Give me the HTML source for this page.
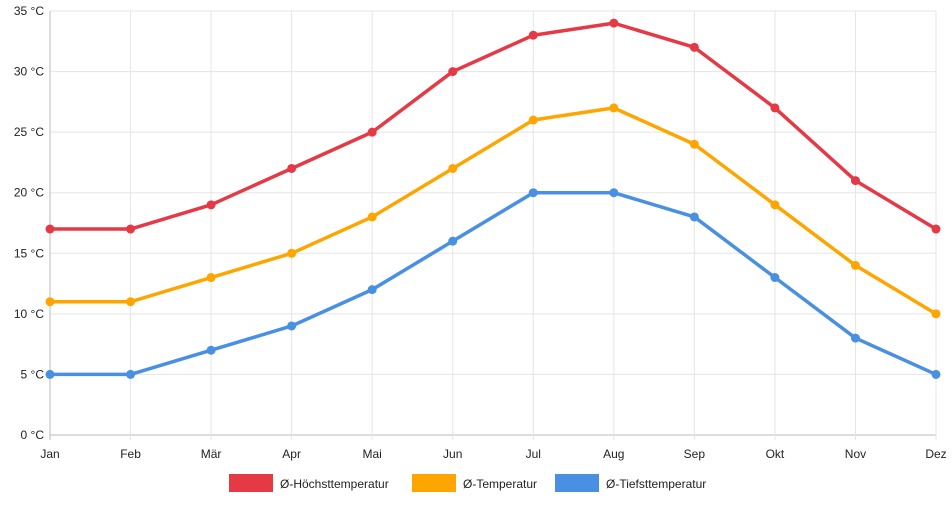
<!DOCTYPE html>
<html><head><meta charset="utf-8"><style>
body{margin:0;background:#fff;font-family:"Liberation Sans",sans-serif}
svg text{font-family:"Liberation Sans",sans-serif;font-size:12px;fill:#222}
</style></head><body>
<svg id="c" width="952" height="500"></svg>
<script>
const months=["Jan","Feb","Mär","Apr","Mai","Jun","Jul","Aug","Sep","Okt","Nov","Dez"];
const highs=[17,17,19,22,25,30,33,34,32,27,21,17];
const means=[11,11,13,15,18,22,26,27,24,19,14,10];
const lows=[5,5,7,9,12,16,20,20,18,13,8,5];
const yTicks=[0,5,10,15,20,25,30,35];
const seriesNames=["Ø-Höchsttemperatur","Ø-Temperatur","Ø-Tiefsttemperatur"];
const NS="http://www.w3.org/2000/svg";
const svg=document.getElementById('c');
const x0=50,x1=936,y0=435,y1=11;
const X=i=>x0+i*(x1-x0)/(months.length-1);
const Y=v=>y0-(v/35)*(y0-y1);
function el(t,a,p){const e=document.createElementNS(NS,t);for(const k in a)e.setAttribute(k,a[k]);(p||svg).appendChild(e);return e;}
const grid=el('g',{});


yTicks.forEach(v=>{
  el('line',{x1:x0,x2:x1,y1:Y(v),y2:Y(v),stroke:v===0?'#bbb':'#e5e5e5'},grid);
  const t=el('text',{x:x0-6,y:Y(v)+4,'text-anchor':'end'});
  
  
  t.textContent=v+' °C';
});
months.forEach((m,i)=>{
  el('line',{x1:X(i),x2:X(i),y1:y1,y2:y0+5,stroke:i===0?'#bbb':'#e5e5e5'},grid);
  const t=el('text',{x:X(i),y:458,'text-anchor':'middle'});
  
  
  t.textContent=m;
});
const data=[highs,means,lows];
const colors=["#e63946","#ffa500","#4a90e2"];
const keys=["high","mean","low"];
data.forEach((d,s)=>{
  const g=el('g',{});
  
  
  el('polyline',{points:d.map((v,i)=>X(i)+','+Y(v)).join(' '),fill:'none',stroke:colors[s],'stroke-width':3.5,'stroke-linejoin':'round'},g);
  d.forEach((v,i)=>{
    const c=el('circle',{cx:X(i),cy:Y(v),r:4.5,fill:colors[s]},g);
    
    
  });
});
const legX=[229,412,555];
seriesNames.forEach((n,s)=>{
  const g=el('g',{});
  
  
  el('rect',{x:legX[s],y:474,width:44,height:18,fill:colors[s]},g);
  const t=el('text',{x:legX[s]+51,y:488},g);
  t.textContent=n;
});
</script>
</body></html>
